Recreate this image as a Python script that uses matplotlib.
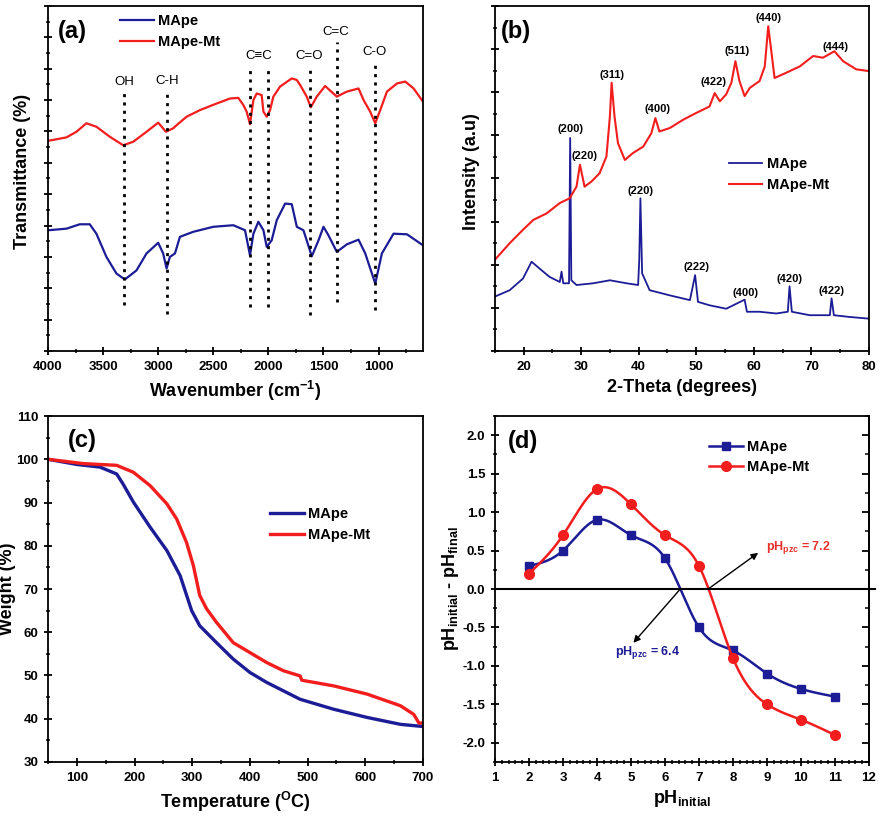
import numpy as np
import matplotlib
matplotlib.use("Agg")
import matplotlib.pyplot as plt
from matplotlib.ticker import MultipleLocator, AutoMinorLocator

plt.rcParams['font.family'] = ['Liberation Sans', 'DejaVu Sans']
plt.rcParams['font.weight'] = 'bold'
plt.rcParams['mathtext.default'] = 'regular'
plt.rcParams['axes.linewidth'] = 1.3
plt.rcParams['axes.unicode_minus'] = False

BLUE = '#1c1c96'
RED = '#f21d1d'

# ---------------- (a) FTIR ----------------
ftir_red_wn = [4000, 3833, 3742, 3652, 3561, 3439, 3318, 3227, 3106, 3000, 2930, 2864, 2833,
               2742, 2621, 2470, 2348, 2273, 2227, 2197, 2167, 2136, 2106, 2061, 2045, 2015,
               1985, 1955, 1894, 1788, 1742, 1712, 1652, 1615, 1561, 1485, 1439, 1379, 1288,
               1182, 1136, 1076, 1030, 985, 924, 833, 758, 682, 597]
ftir_red_t = [67.0, 68.1, 69.9, 72.6, 71.5, 68.3, 65.6, 66.7, 69.9, 72.8, 69.9, 71.0, 72.0,
              74.7, 76.8, 78.9, 80.5, 80.7, 78.4, 76.3, 72.3, 80.0, 82.1, 81.6, 76.3, 74.7,
              76.8, 81.1, 84.3, 86.9, 86.4, 84.8, 81.1, 77.7, 81.1, 84.5, 83.0, 81.1, 82.7,
              83.7, 80.0, 76.3, 72.6, 76.8, 82.7, 85.3, 85.9, 83.7, 79.5]
ftir_blue_wn = [4000, 3833, 3712, 3621, 3561, 3470, 3379, 3303, 3197, 3106, 3000, 2955, 2924,
                2894, 2848, 2803, 2682, 2500, 2318, 2212, 2167, 2136, 2091, 2045, 2015, 1970,
                1924, 1848, 1788, 1742, 1682, 1606, 1545, 1500, 1455, 1379, 1288, 1182, 1121,
                1030, 970, 864, 742, 597]
ftir_blue_t = [38.5, 39.0, 40.4, 40.4, 37.4, 30.0, 24.7, 22.8, 25.7, 31.1, 34.5, 31.1, 26.3,
               30.0, 31.1, 36.4, 38.0, 39.6, 40.1, 38.5, 30.5, 37.4, 41.2, 38.5, 33.2, 35.3,
               41.7, 47.0, 46.8, 39.6, 38.5, 30.2, 35.3, 39.6, 36.9, 31.6, 34.0, 35.5, 31.1,
               21.5, 31.1, 37.4, 37.2, 33.7]
band_labels = ['OH', 'C-H', 'C≡C', '', 'C=O', 'C=C', 'C-O']
band_wn = [3310, 2920, 2170, 2000, 1620, 1380, 1035]
band_top = [82.1, 82.1, 89.6, 89.6, 91.2, 98.6, 91.2]
band_bottom = [14.6, 11.9, 14.0, 14.0, 11.4, 15.6, 13.0]
label_wn = [3310, 2920, 2085, 2000, 1627, 1388, 1036]
label_y = [85.9, 86.1, 94.1, 94.1, 94.1, 101.8, 95.2]

# ---------------- (b) XRD ----------------
xrd_red_2t = [15.0, 17.6, 19.9, 21.7, 24.0, 26.3, 28.0, 29.2, 29.8, 30.6, 31.8, 33.2, 34.4, 35.0,
              35.3, 35.8, 36.4, 37.6, 39.0, 40.8, 42.2, 42.9, 43.6, 45.4, 47.7, 50.0, 52.3, 53.2,
              54.1, 55.2, 56.1, 56.8, 57.5, 58.4, 59.3, 61.0, 61.9, 62.5, 63.0, 63.6, 65.6, 68.0,
              70.3, 72.0, 74.0, 75.5, 77.8, 80.0]
xrd_red_i = [2.11, 2.50, 2.81, 3.04, 3.19, 3.43, 3.54, 3.81, 4.32, 3.81, 3.93, 4.12, 4.51, 5.44,
             6.22, 5.44, 4.82, 4.43, 4.59, 4.74, 5.05, 5.40, 5.09, 5.17, 5.36, 5.52, 5.67, 5.98,
             5.79, 5.95, 6.22, 6.72, 6.26, 5.91, 6.10, 6.26, 6.60, 7.53, 6.99, 6.33, 6.45, 6.60,
             6.84, 6.80, 6.95, 6.72, 6.53, 6.49]
xrd_blue_2t = [15.0, 17.6, 19.9, 21.4, 22.8, 24.5, 26.3, 26.6, 26.9, 27.9, 28.1, 28.3, 29.2,
               32.1, 35.0, 37.9, 39.9, 40.1, 40.3, 40.6, 41.9, 45.4, 48.9, 49.8, 50.3, 52.3,
               55.2, 58.4, 58.8, 61.0, 63.9, 65.9, 66.2, 66.6, 69.7, 73.2, 73.5, 73.9, 76.6, 80.0]
xrd_blue_i = [1.26, 1.41, 1.68, 2.07, 1.91, 1.72, 1.60, 1.84, 1.57, 1.57, 4.94, 1.64, 1.53,
              1.57, 1.64, 1.57, 1.53, 2.11, 3.54, 1.80, 1.41, 1.29, 1.18, 1.76, 1.14, 1.06,
              0.98, 1.19, 0.91, 0.91, 0.87, 0.91, 1.50, 0.91, 0.83, 0.83, 1.22, 0.83, 0.79, 0.75]
hkl_red = ['(220)', '(311)', '(400)', '(422)', '(511)', '(440)', '(444)']
hkl_red_x = [30.6, 35.4, 43.2, 53.0, 57.1, 62.6, 74.2]
hkl_red_y = [4.51, 6.41, 5.62, 6.23, 6.95, 7.71, 7.05]
hkl_blue = ['(200)', '(220)', '(222)', '(400)', '(420)', '(422)']
hkl_blue_x = [28.2, 40.3, 50.0, 58.6, 66.2, 73.5]
hkl_blue_y = [5.15, 3.72, 1.95, 1.35, 1.67, 1.40]

# ---------------- (c) TGA ----------------
tga_blue_T = [50, 100, 140, 169, 180, 198, 227, 256, 279, 299, 313, 342, 371, 400, 429, 487,
              545, 603, 661, 700]
tga_blue_w = [100, 98.8, 98.2, 96.6, 94.3, 90.1, 84.3, 78.9, 73.1, 65.0, 61.5, 57.6, 53.8,
              50.7, 48.4, 44.5, 42.2, 40.3, 38.7, 38.2]
tga_red_T = [50, 111, 169, 198, 227, 256, 273, 290, 302, 313, 325, 342, 371, 400, 429, 458,
             487, 490, 545, 603, 661, 684, 693, 700]
tga_red_w = [100, 99.0, 98.6, 97.0, 93.9, 89.7, 86.2, 80.8, 75.4, 68.5, 65.4, 62.3, 57.6,
             55.3, 53.0, 51.1, 49.9, 48.9, 47.6, 45.7, 43.0, 41.0, 39.0, 39.0]

# ---------------- (d) pHpzc ----------------
ph_initial = [2, 3, 4, 5, 6, 7, 8, 9, 10, 11]
dph_mape = [0.3, 0.5, 0.9, 0.7, 0.4, -0.5, -0.8, -1.1, -1.3, -1.4]
dph_mapemt = [0.2, 0.7, 1.3, 1.1, 0.7, 0.3, -0.9, -1.5, -1.7, -1.9]
pzc_mape = 6.4
pzc_mapemt = 7.2


def natural_spline(x, y, n=300):
    x = np.asarray(x, float)
    y = np.asarray(y, float)
    m = len(x)
    h = np.diff(x)
    A = np.zeros((m, m))
    b = np.zeros(m)
    A[0, 0] = 1
    A[-1, -1] = 1
    for i in range(1, m - 1):
        A[i, i - 1] = h[i - 1]
        A[i, i] = 2 * (h[i - 1] + h[i])
        A[i, i + 1] = h[i]
        b[i] = 6 * ((y[i + 1] - y[i]) / h[i] - (y[i] - y[i - 1]) / h[i - 1])
    M = np.linalg.solve(A, b)
    xs = np.linspace(x[0], x[-1], n)
    idx = np.clip(np.searchsorted(x, xs) - 1, 0, m - 2)
    x0, x1 = x[idx], x[idx + 1]
    hh = x1 - x0
    t0 = x1 - xs
    t1 = xs - x0
    ys = (M[idx] * t0 ** 3 / (6 * hh) + M[idx + 1] * t1 ** 3 / (6 * hh)
          + (y[idx] / hh - M[idx] * hh / 6) * t0 + (y[idx + 1] / hh - M[idx + 1] * hh / 6) * t1)
    return xs, ys


fig = plt.figure(figsize=(8.86, 8.18), dpi=100)
axa = fig.add_axes([0.0542, 0.5709, 0.4232, 0.4218])
axb = fig.add_axes([0.5584, 0.5709, 0.4224, 0.4218])
axc = fig.add_axes([0.0542, 0.0685, 0.4232, 0.4229])
axd = fig.add_axes([0.5587, 0.0685, 0.4221, 0.4229])

TICK_FS = 9.5
LAB_FS = 13
LEG_FS = 10.5
PANEL_FS = 17

for ax in (axa, axb, axc, axd):
    ax.tick_params(which='major', direction='inout', length=6, width=1.3, labelsize=TICK_FS, pad=4)
    ax.tick_params(which='minor', direction='inout', length=3.5, width=1.1)

LEG_KW = dict(loc='upper left', frameon=False, handlelength=2.3, handletextpad=0.3,
              labelspacing=0.45, borderaxespad=0, borderpad=0.2,
              prop={'weight': 'bold', 'size': LEG_FS})

# (a)
axa.plot(ftir_blue_wn, ftir_blue_t, color=BLUE, lw=1.6, label='MApe')
axa.plot(ftir_red_wn, ftir_red_t, color=RED, lw=1.6, label='MApe-Mt')
for wn, yt, yb in zip(band_wn, band_top, band_bottom):
    axa.plot([wn, wn], [yb, yt], color='black', lw=2.0, linestyle=(0, (1.1, 1.9)))
for lab, wn, yl in zip(band_labels, label_wn, label_y):
    if lab:
        axa.text(wn, yl, lab, ha='center', va='center', fontsize=9.5, fontweight='normal')
axa.set_xlim(4000, 597)
axa.set_ylim(0, 110)
axa.xaxis.set_major_locator(MultipleLocator(500))
axa.xaxis.set_minor_locator(MultipleLocator(250))
axa.yaxis.set_major_locator(MultipleLocator(10))
axa.yaxis.set_minor_locator(MultipleLocator(5))
axa.set_yticklabels([])
axa.set_xlabel('Wavenumber (cm$^{-1}$)', fontsize=LAB_FS, fontweight='bold')
axa.set_ylabel('Transmittance (%)', fontsize=LAB_FS, fontweight='bold')
axa.xaxis.set_label_coords(0.5, -0.08)
axa.yaxis.set_label_coords(-0.045, 0.52)
axa.legend(bbox_to_anchor=(0.185, 0.985), **LEG_KW)
axa.text(0.027, 0.925, '(a)', transform=axa.transAxes, fontsize=PANEL_FS, fontweight='bold',
         va='center', ha='left')

# (b)
axb.plot(xrd_blue_2t, xrd_blue_i, color=BLUE, lw=1.3, label='MApe')
axb.plot(xrd_red_2t, xrd_red_i, color=RED, lw=1.5, label='MApe-Mt')
for lab, x, y in zip(hkl_red, hkl_red_x, hkl_red_y):
    axb.text(x, y, lab, ha='center', va='center', fontsize=8, fontweight='bold')
for lab, x, y in zip(hkl_blue, hkl_blue_x, hkl_blue_y):
    axb.text(x, y, lab, ha='center', va='center', fontsize=8, fontweight='bold')
axb.set_xlim(15, 80)
axb.set_ylim(0, 8)
axb.xaxis.set_major_locator(MultipleLocator(10))
axb.xaxis.set_minor_locator(MultipleLocator(5))
axb.yaxis.set_major_locator(MultipleLocator(1))
axb.yaxis.set_minor_locator(MultipleLocator(0.5))
axb.set_yticklabels([])
axb.set_xlabel('2-Theta (degrees)', fontsize=LAB_FS, fontweight='bold')
axb.set_ylabel('Intensity (a.u)', fontsize=LAB_FS, fontweight='bold')
axb.xaxis.set_label_coords(0.5, -0.08)
axb.yaxis.set_label_coords(-0.04, 0.52)
axb.legend(bbox_to_anchor=(0.618, 0.57), **LEG_KW)
axb.text(0.017, 0.925, '(b)', transform=axb.transAxes, fontsize=PANEL_FS, fontweight='bold',
         va='center', ha='left')

# (c)
axc.plot(tga_blue_T, tga_blue_w, color=BLUE, lw=2.4, label='MApe')
axc.plot(tga_red_T, tga_red_w, color=RED, lw=2.4, label='MApe-Mt')
axc.set_xlim(50, 700)
axc.set_ylim(30, 110)
axc.xaxis.set_major_locator(MultipleLocator(100))
axc.xaxis.set_minor_locator(MultipleLocator(50))
axc.yaxis.set_major_locator(MultipleLocator(10))
axc.yaxis.set_minor_locator(MultipleLocator(5))
axc.set_xlabel('Temperature ($^{O}$C)', fontsize=LAB_FS, fontweight='bold')
axc.set_ylabel('Weight (%)', fontsize=LAB_FS, fontweight='bold')
axc.xaxis.set_label_coords(0.5, -0.082)
axc.yaxis.set_label_coords(-0.085, 0.5)
axc.legend(bbox_to_anchor=(0.585, 0.745), **LEG_KW)
axc.text(0.053, 0.928, '(c)', transform=axc.transAxes, fontsize=PANEL_FS, fontweight='bold',
         va='center', ha='left')

# (d)
xs, ys = natural_spline(ph_initial, dph_mape)
axd.plot(xs, ys, color=BLUE, lw=1.8)
axd.plot(ph_initial, dph_mape, 's', color=BLUE, ms=6)
axd.plot([], [], '-s', color=BLUE, lw=1.8, ms=6, label='MApe')
xs, ys = natural_spline(ph_initial, dph_mapemt)
axd.plot(xs, ys, color=RED, lw=1.8)
axd.plot(ph_initial, dph_mapemt, 'o', color=RED, ms=7)
axd.plot([], [], '-o', color=RED, lw=1.8, ms=7, label='MApe-Mt')
axd.axhline(0, xmin=0, xmax=1.015, color='black', lw=1.5, clip_on=False)
axd.annotate('', xy=(5.07, -0.70), xytext=(pzc_mape + 0.05, 0),
             arrowprops=dict(arrowstyle='-|>', color='black', lw=1.0, mutation_scale=10,
                             shrinkA=0, shrinkB=0))
axd.annotate('', xy=(8.74, 0.47), xytext=(pzc_mapemt + 0.07, 0),
             arrowprops=dict(arrowstyle='-|>', color='black', lw=1.0, mutation_scale=10,
                             shrinkA=0, shrinkB=0))
axd.text(4.53, -0.83, 'pH$_{pzc}$ = %.1f' % pzc_mape, color=BLUE, fontsize=9, fontweight='bold',
         ha='left', va='center')
axd.text(8.96, 0.54, 'pH$_{pzc}$ = %.1f' % pzc_mapemt, color='#e8302a', fontsize=9,
         fontweight='bold', ha='left', va='center')
axd.set_xlim(1, 12)
axd.set_ylim(-2.25, 2.25)
axd.xaxis.set_major_locator(MultipleLocator(1))
axd.xaxis.set_minor_locator(AutoMinorLocator(5))
axd.yaxis.set_major_locator(MultipleLocator(0.5))
axd.yaxis.set_minor_locator(MultipleLocator(0.25))
axd.set_xlabel('pH$_{initial}$', fontsize=LAB_FS, fontweight='bold')
axd.set_ylabel('pH$_{initial}$ - pH$_{final}$', fontsize=LAB_FS, fontweight='bold')
axd.xaxis.set_label_coords(0.5, -0.075)
axd.yaxis.set_label_coords(-0.09, 0.5)
axd.legend(bbox_to_anchor=(0.565, 0.94), **LEG_KW)
axd.text(0.035, 0.925, '(d)', transform=axd.transAxes, fontsize=PANEL_FS, fontweight='bold',
         va='center', ha='left')
# inward ticks on the right spine of (d)
sec = axd.secondary_yaxis('right')
sec.yaxis.set_major_locator(MultipleLocator(0.5))
sec.yaxis.set_minor_locator(MultipleLocator(0.25))
sec.tick_params(which='major', direction='in', length=5, width=1.3, labelright=False)
sec.tick_params(which='minor', direction='in', length=3, width=1.1)
sec.spines['right'].set_linewidth(1.3)

for ax in (axa, axb, axc, axd):
    for lab in ax.get_xticklabels() + ax.get_yticklabels():
        lab.set_fontweight('bold')

fig.savefig('out.png', dpi=100)
